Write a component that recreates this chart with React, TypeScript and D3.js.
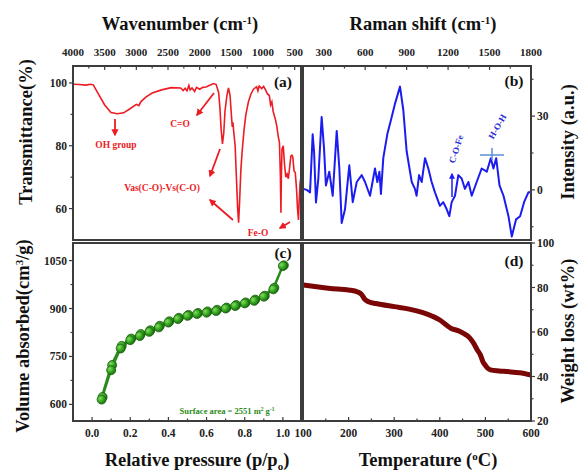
import React from 'react';
import * as d3 from 'd3';

// (a) FTIR spectrum
const ftirWavenumber = [4000, 3900, 3800, 3720, 3680, 3600, 3500, 3400, 3300, 3200, 3100, 3000, 2960, 2930, 2850, 2750, 2600, 2450, 2300, 2260, 2230, 2200, 2170, 2150, 2120, 2080, 2050, 2000, 1950, 1900, 1850, 1780, 1740, 1700, 1680, 1660, 1640, 1620, 1600, 1570, 1545, 1520, 1500, 1485, 1475, 1460, 1440, 1420, 1400, 1385, 1370, 1350, 1330, 1300, 1270, 1230, 1190, 1150, 1100, 1080, 1060, 1020, 990, 960, 930, 900, 880, 860, 840, 800, 780, 760, 740, 725, 717, 710, 700, 680, 660, 640, 620, 600, 580, 560, 545, 530, 510, 490, 470, 455, 440, 430, 415, 400];
const ftirTransmittance = [99.6, 99.5, 99.3, 99.6, 99.4, 96.5, 93, 90.6, 90.2, 90.5, 91.8, 93.2, 92.8, 94, 95.5, 96.8, 97.8, 98.5, 98.4, 97.6, 98.3, 97.5, 99.2, 97.8, 98.4, 97.3, 98.6, 98, 98.6, 98.7, 99.2, 99.8, 99.5, 97, 92, 85, 80.6, 84, 91, 96, 98.4, 96, 90, 86, 87.5, 84, 80, 70, 60, 55.5, 62, 72, 78, 85, 90, 94, 96.5, 98, 98.8, 97.5, 99, 98.2, 98.9, 97.8, 96.5, 96, 93, 94, 91, 88, 86, 83, 81, 70, 58.7, 70, 79, 80, 74, 70, 71, 69.5, 73, 76.7, 77, 76.5, 72, 71.5, 66, 60, 56.4, 62, 68, 70];
const ftirTicks = [4000, 3500, 3000, 2500, 2000, 1500, 1000, 500];
const ftirMinor = [3750, 3250, 2750, 2250, 1750, 1250, 750];
const transTicks = [60, 80, 100];
const transMinor = [70, 90];

// (b) Raman spectrum
const ramanShift = [152, 177, 201, 220, 230, 244, 261, 285, 302, 316, 340, 365, 394, 413, 430, 454, 485, 510, 539, 575, 599, 635, 671, 688, 703, 714, 731, 760, 792, 816, 852, 876, 900, 937, 960, 972, 990, 1009, 1033, 1057, 1081, 1105, 1141, 1165, 1190, 1209, 1226, 1250, 1274, 1298, 1322, 1347, 1371, 1407, 1443, 1480, 1509, 1528, 1548, 1572, 1601, 1637, 1661, 1692, 1721, 1750, 1781, 1806];
const ramanIntensity = [0.4, 0, -1, 22.6, 15.7, -5.1, 4.6, 29.6, 17, 1.8, 7.4, -2.4, 24, 8.7, -13.5, -7.9, 10, -5, 3.2, 6, 3.2, -2.4, 8.7, 3.2, 7.4, -1.7, 12.9, 22.6, 29.6, 35.1, 42, 32.4, 15.7, 3.2, 0.4, -2.4, 6, 3.2, 12.9, 8.7, 3.2, -1, -6.5, -5, -7.9, -10.7, -5, -2.4, 6, 4.6, 0.4, 3.2, -2.4, 3.2, 8.7, 7.4, 12.9, 8.7, 12.9, 1.8, -2.4, -10.7, -19, -12, -10.7, -5, -1, -1];
const ramanTicks = [300, 600, 900, 1200, 1500, 1800];
const ramanMinor = [150, 450, 750, 1050, 1350, 1650];
const intensityTicks = [0, 30];
const intensityMinor = [-15, 15, 45];

// (c) N2 isotherm
const betPressure = [0.05, 0.1, 0.15, 0.2, 0.25, 0.3, 0.35, 0.4, 0.45, 0.5, 0.55, 0.6, 0.65, 0.7, 0.75, 0.8, 0.85, 0.9, 0.95, 1.0];
const betAdsorption = [615, 707, 775, 801, 814, 827, 841, 856, 867, 877, 883, 887, 892, 900, 908, 916, 924, 937, 960, 1033];
const betDesorption = [623, 723, 783, 806, 820, 832, 846, 860, 871, 880, 886, 891, 896, 903, 911, 919, 928, 940, 965, 1035];
const pressureTicks = [0, 0.2, 0.4, 0.6, 0.8, 1.0];
const pressureMinor = [0.1, 0.3, 0.5, 0.7, 0.9];
const volumeTicks = [600, 750, 900, 1050];
const volumeMinor = [675, 825, 975];

// (d) TGA
const tgaTemp = [100, 130, 160, 200, 220, 228, 236, 245, 260, 300, 333, 363, 385, 400, 415, 425, 440, 452, 465, 474, 482, 489, 495, 500, 505, 511, 530, 548, 575, 600];
const tgaWeight = [81.1, 80.3, 79.6, 78.9, 78, 77, 74.6, 73.5, 72.8, 71.4, 70.3, 68.7, 67, 65.4, 63, 61.6, 60.6, 59.4, 57.5, 55, 52, 49.7, 46.5, 45, 43.7, 43, 42.5, 42.2, 41.7, 40.7];
const tempTicks = [100, 200, 300, 400, 500, 600];
const tempMinor = [150, 250, 350, 450, 550];
const weightTicks = [20, 40, 60, 80, 100];
const weightMinor = [30, 50, 70, 90];

const FONT = '"Liberation Serif", "DejaVu Serif", serif';
const FRAME = '#3c3c3c';
const RED = '#ec1c24';
const BLUE = '#1c1cf0';

export default function App() {
  // panel boxes
  const aL = 73, aR = 301, top = 66, mid = 240;
  const bL = 303, bR = 531;
  const cT = 243, bot = 421;

  const ftirX = d3.scaleLinear().domain([4000, 400]).range([aL, aR]);
  const ftirY = d3.scaleLinear().domain([50, 105.4]).range([mid, top]);
  const ramanX = d3.scaleLinear().domain([150, 1800]).range([bL, bR]);
  const ramanY = d3.scaleLinear().domain([-20.4, 50.4]).range([mid, top]);
  const betX = d3.scaleLinear().domain([-0.1, 1.095]).range([aL, aR]);
  const betY = d3.scaleLinear().domain([548, 1105]).range([bot, cT]);
  const tgaX = d3.scaleLinear().domain([100, 600]).range([bL, bR]);
  const tgaY = d3.scaleLinear().domain([20, 100]).range([bot, cT]);

  const line = d3.line<[number, number]>().curve(d3.curveLinear);
  const ftirPath = line(ftirWavenumber.map((w, i) => [ftirX(w), ftirY(ftirTransmittance[i])]));
  const ramanPath = line(ramanShift.map((r, i) => [ramanX(r), ramanY(ramanIntensity[i])]));
  const adsPath = line(betPressure.map((p, i) => [betX(p), betY(betAdsorption[i])]));
  const desPath = line(betPressure.map((p, i) => [betX(p), betY(betDesorption[i])]));
  const tgaPath = d3.line<[number, number]>().curve(d3.curveMonotoneX)(tgaTemp.map((t, i) => [tgaX(t), tgaY(tgaWeight[i])]));

  const tickText = { fontFamily: FONT, fontWeight: 700, fontSize: 11.5, fill: '#222' } as const;
  const titleText = { fontFamily: FONT, fontWeight: 700, fontSize: 18.5, fill: '#111' } as const;

  // tick helpers
  const hTicks = (sc: any, vals: number[], y: number, len: number, key: string) =>
    vals.map(v => <line key={key + v} x1={sc(v)} x2={sc(v)} y1={y} y2={y + len} stroke={FRAME} strokeWidth={1.2} />);
  const vTicks = (sc: any, vals: number[], x: number, len: number, key: string) =>
    vals.map(v => <line key={key + v} x1={x} x2={x + len} y1={sc(v)} y2={sc(v)} stroke={FRAME} strokeWidth={1.2} />);

  return (
    <svg width={588} height={473} style={{ position: 'absolute', left: 0, top: 0, background: '#fff' }}>
      <defs>
        <clipPath id="clipA"><rect x={aL} y={top} width={aR - aL} height={mid - top} /></clipPath>
        <clipPath id="clipB"><rect x={bL} y={top} width={bR - bL} height={mid - top} /></clipPath>
        <clipPath id="clipD"><rect x={bL} y={cT} width={bR - bL} height={bot - cT} /></clipPath>
        <radialGradient id="ball" cx="35%" cy="35%" r="70%">
          <stop offset="0%" stopColor="#7fe05a" />
          <stop offset="60%" stopColor="#2f9e1c" />
          <stop offset="100%" stopColor="#1a6a10" />
        </radialGradient>
        <marker id="arrR" viewBox="0 0 10 10" refX="8" refY="5" markerWidth="4" markerHeight="4" orient="auto-start-reverse">
          <path d="M0,0 L10,5 L0,10 z" fill={RED} />
        </marker>
        <marker id="arrB" viewBox="0 0 10 10" refX="8" refY="5" markerWidth="4" markerHeight="4" orient="auto-start-reverse">
          <path d="M0,0 L10,5 L0,10 z" fill={BLUE} />
        </marker>
      </defs>

      {/* axis titles */}
      <text x={180} y={30} textAnchor="middle" style={titleText}>Wavenumber (cm<tspan dy={-6} fontSize={11}>-1</tspan><tspan dy={6}>)</tspan></text>
      <text x={423} y={30} textAnchor="middle" style={titleText}>Raman shift (cm<tspan dy={-6} fontSize={11}>-1</tspan><tspan dy={6}>)</tspan></text>
      <text transform="translate(32,132) rotate(-90)" textAnchor="middle" style={titleText}>Transmittance(%)</text>
      <text transform="translate(29,336) rotate(-90)" textAnchor="middle" style={titleText}>Volume absorbed(cm<tspan dy={-6} fontSize={11}>3</tspan><tspan dy={6}>/g)</tspan></text>
      <text transform="translate(574,142) rotate(-90)" textAnchor="middle" style={titleText}>Intensity (a.u.)</text>
      <text transform="translate(574,331) rotate(-90)" textAnchor="middle" style={titleText}>Weight loss (wt%)</text>
      <text x={197} y={466} textAnchor="middle" style={titleText}>Relative pressure (p/p<tspan dy={4} fontSize={11}>o</tspan><tspan dy={-4}>)</tspan></text>
      <text x={428} y={466} textAnchor="middle" style={titleText}>Temperature (<tspan dy={-6} fontSize={11}>o</tspan><tspan dy={6}>C)</tspan></text>

      {/* (a) FTIR */}
      <path d={ftirPath ?? ''} fill="none" stroke={RED} strokeWidth={1.6} clipPath="url(#clipA)" />
      {hTicks(ftirX, ftirTicks, top, 4, 'ft')}
      {hTicks(ftirX, ftirMinor, top, 2.5, 'fm')}
      {ftirTicks.map(v => <text key={'ftl' + v} x={ftirX(v)} y={56} textAnchor="middle" style={{ ...tickText, fontSize: 11 }}>{v}</text>)}
      {vTicks(ftirY, transTicks, aL - 4, 4, 'tt')}
      {vTicks(ftirY, transMinor, aL - 2.5, 2.5, 'tm')}
      {transTicks.map(v => <text key={'ttl' + v} x={aL - 6} y={ftirY(v) + 4} textAnchor="end" style={tickText}>{v}</text>)}
      <text x={283} y={87} textAnchor="middle" style={{ ...titleText, fontSize: 15.5 }}>(a)</text>
      <g style={{ fontFamily: FONT, fontWeight: 700, fontSize: 9.5, fill: RED }}>
        <text x={116} y={148} textAnchor="middle">OH group</text>
        <text x={180} y={127} textAnchor="middle">C=O</text>
        <text x={162} y={191} textAnchor="middle">Vas(C-O)-Vs(C-O)</text>
        <text x={258} y={236} textAnchor="middle">Fe-O</text>
      </g>
      <g stroke={RED} strokeWidth={1.8} fill="none">
        <line x1={115} y1={119} x2={115} y2={135} markerEnd="url(#arrR)" />
        <line x1={214} y1={93} x2={197} y2={115} markerEnd="url(#arrR)" />
        <line x1={220} y1={149} x2={210} y2={176} markerEnd="url(#arrR)" />
        <line x1={233} y1={220} x2={210} y2={200} markerEnd="url(#arrR)" />
        <line x1={290} y1={222} x2={280} y2={228} markerEnd="url(#arrR)" />
      </g>

      {/* (b) Raman */}
      <path d={ramanPath ?? ''} fill="none" stroke={BLUE} strokeWidth={2} strokeLinejoin="round" clipPath="url(#clipB)" />
      {hTicks(ramanX, ramanTicks, top, 4, 'rt')}
      {hTicks(ramanX, ramanMinor, top, 2.5, 'rm')}
      {ramanTicks.map(v => <text key={'rtl' + v} x={ramanX(v)} y={56} textAnchor="middle" style={{ ...tickText, fontSize: 11 }}>{v}</text>)}
      {vTicks(ramanY, intensityTicks, bR, 4, 'it')}
      {vTicks(ramanY, intensityMinor, bR, 2.5, 'im')}
      {intensityTicks.map(v => <text key={'itl' + v} x={bR + 6} y={ramanY(v) + 4} style={tickText}>{v}</text>)}
      <text x={514} y={86} textAnchor="middle" style={{ ...titleText, fontSize: 15.5 }}>(b)</text>
      <g style={{ fontFamily: FONT, fontWeight: 700, fontSize: 9, fill: '#2a2ad8' }}>
        <text transform="translate(459,150) rotate(-72)" textAnchor="middle">C-O-Fe</text>
        <text transform="translate(500,128) rotate(-60)" textAnchor="middle">H-O-H</text>
      </g>
      <line x1={452} y1={197} x2={452} y2={174} stroke={BLUE} strokeWidth={1.5} markerEnd="url(#arrB)" />
      <line x1={480} y1={155} x2={504} y2={155} stroke="#5b8fd6" strokeWidth={1.5} />
      <line x1={492} y1={148} x2={492} y2={160} stroke="#5b8fd6" strokeWidth={1.5} />

      {/* (c) isotherm */}
      <path d={desPath ?? ''} fill="none" stroke="#2a8a1a" strokeWidth={2} />
      <path d={adsPath ?? ''} fill="none" stroke="#2a8a1a" strokeWidth={2} />
      {betPressure.map((p, i) => <circle key={'d' + i} cx={betX(p) + 1} cy={betY(betDesorption[i])} r={4.5} fill="url(#ball)" stroke="#1b5e10" strokeWidth={0.8} />)}
      {betPressure.map((p, i) => <circle key={'a' + i} cx={betX(p)} cy={betY(betAdsorption[i])} r={4.5} fill="url(#ball)" stroke="#1b5e10" strokeWidth={0.8} />)}
      {hTicks(betX, pressureTicks, bot, -4, 'pt')}
      {hTicks(betX, pressureMinor, bot, -2.5, 'pm')}
      {pressureTicks.map(v => <text key={'ptl' + v} x={betX(v)} y={437} textAnchor="middle" style={tickText}>{v.toFixed(1)}</text>)}
      {vTicks(betY, volumeTicks, aL - 4, 4, 'vt')}
      {vTicks(betY, volumeMinor, aL - 2.5, 2.5, 'vm')}
      {volumeTicks.map(v => <text key={'vtl' + v} x={aL - 6} y={betY(v) + 4} textAnchor="end" style={tickText}>{v}</text>)}
      <text x={283} y={258} textAnchor="middle" style={{ ...titleText, fontSize: 15.5 }}>(c)</text>
      <text x={227} y={414} textAnchor="middle" style={{ fontFamily: FONT, fontWeight: 700, fontSize: 8.5, fill: '#2a8a1a' }}>
        Surface area = 2551 m<tspan dy={-3} fontSize={5.5}>2</tspan><tspan dy={3}> g</tspan><tspan dy={-3} fontSize={5.5}>-1</tspan>
      </text>

      {/* (d) TGA */}
      <path d={tgaPath ?? ''} fill="none" stroke="#7a0606" strokeWidth={5} strokeLinecap="round" clipPath="url(#clipD)" />
      {hTicks(tgaX, tempTicks, bot, -4, 'tpt')}
      {hTicks(tgaX, tempMinor, bot, -2.5, 'tpm')}
      {tempTicks.map(v => <text key={'tpl' + v} x={tgaX(v)} y={437} textAnchor="middle" style={tickText}>{v}</text>)}
      {vTicks(tgaY, weightTicks, bR, 4, 'wt')}
      {vTicks(tgaY, weightMinor, bR, 2.5, 'wm')}
      {weightTicks.map(v => <text key={'wtl' + v} x={bR + 6} y={tgaY(v) + 4} style={tickText}>{v}</text>)}
      <text x={514} y={266} textAnchor="middle" style={{ ...titleText, fontSize: 15.5 }}>(d)</text>

      {/* frames */}
      <g fill="none" stroke={FRAME} strokeWidth={2}>
        <rect x={aL} y={top} width={aR - aL} height={mid - top} />
        <rect x={bL} y={top} width={bR - bL} height={mid - top} />
        <rect x={aL} y={cT} width={aR - aL} height={bot - cT} />
        <rect x={bL} y={cT} width={bR - bL} height={bot - cT} />
      </g>
    </svg>
  );
}
